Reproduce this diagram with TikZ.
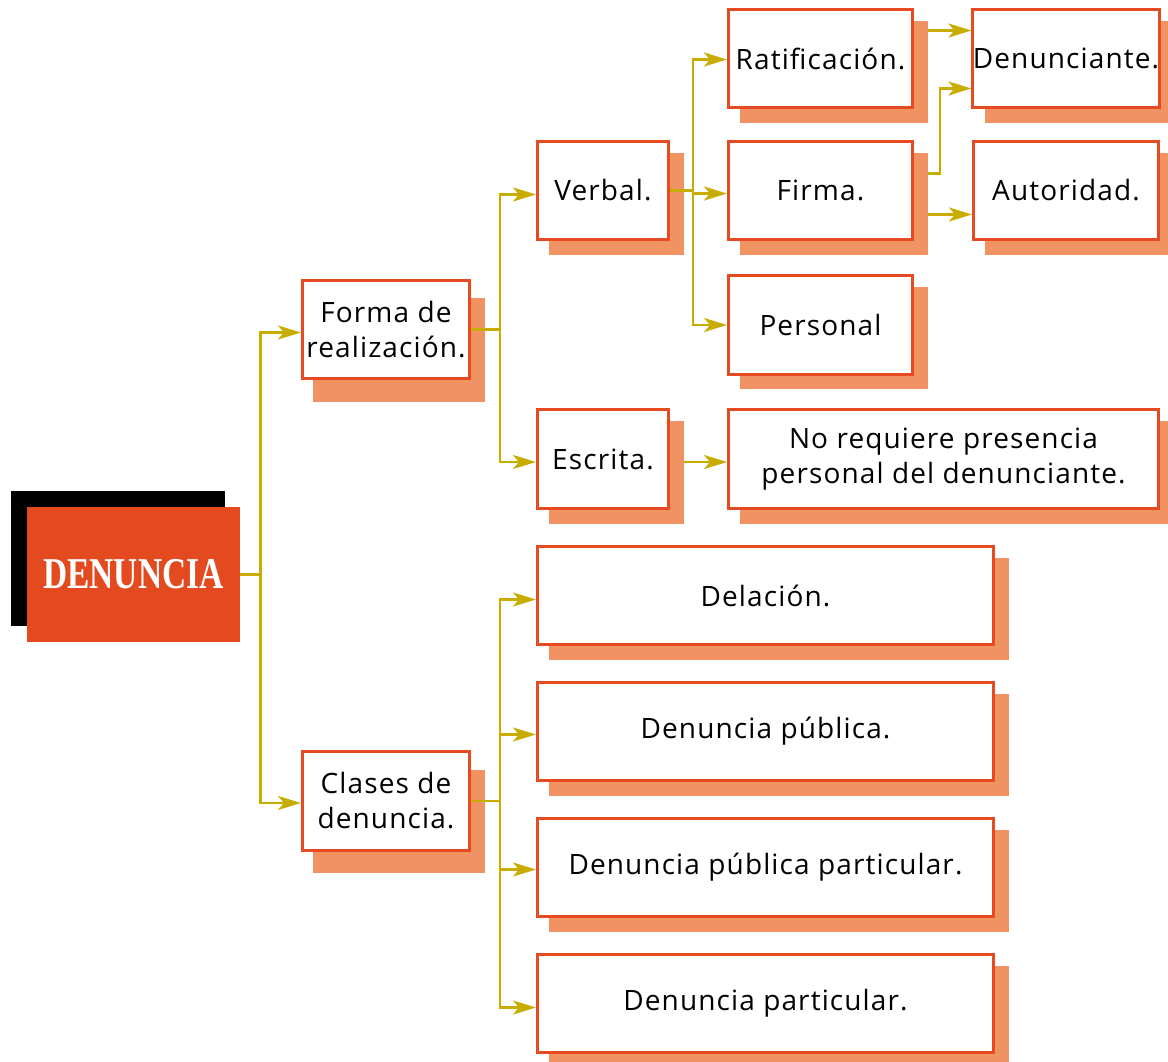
\documentclass[tikz,border=0pt]{standalone}
\usepackage{fontspec}
\usepackage{graphicx}
\setmainfont{Open Sans}[LetterSpace=4]
\newfontfamily\titlefont{Liberation Serif}
\usetikzlibrary{arrows.meta,positioning,calc}
\definecolor{boxborder}{HTML}{E54A22}
\definecolor{shadowc}{HTML}{F09262}
\definecolor{linkc}{HTML}{C8AC00}
\definecolor{mainfill}{HTML}{E34A20}
\tikzset{
  box/.style={draw=boxborder, line width=3pt, fill=white, align=center, inner sep=0pt,
    font=\fontsize{28}{35}\selectfont, text=black},
  shad/.style={fill=shadowc},
  arr/.style={draw=linkc, line width=2.8pt,
    -{Stealth[length=23pt,width=14pt,inset=6pt]}},
  lnk/.style={draw=linkc, line width=2.8pt},
}
\begin{document}
\begin{tikzpicture}[x=1pt,y=-1pt]
\useasboundingbox (0,0) rectangle (1168,1062);
% shadows
\fill[shad] (313,298) rectangle (485,402);
\fill[shad] (313,770) rectangle (485,873);
\fill[shad] (549,153) rectangle (684,255);
\fill[shad] (549,421) rectangle (684,524);
\fill[shad] (740,21) rectangle (928,123);
\fill[shad] (740,153) rectangle (928,255);
\fill[shad] (740,287) rectangle (928,389);
\fill[shad] (985,21) rectangle (1168,123);
\fill[shad] (985,153) rectangle (1168,255);
\fill[shad] (740,421) rectangle (1168,524);
\fill[shad] (549,558) rectangle (1009,660);
\fill[shad] (549,694) rectangle (1009,796);
\fill[shad] (549,830) rectangle (1009,932);
\fill[shad] (549,966) rectangle (1009,1062);
% main node
\fill[black] (11,491) rectangle (225,626);
\node[fill=mainfill, minimum width=213pt, minimum height=135pt, inner sep=0pt, text=white,
  font=\titlefont\bfseries\fontsize{44}{44}\selectfont] (den) at (133.5,574.5)
  {\scalebox{0.76}[1]{DENUNCIA}};
% boxes
\node[box, minimum width=167pt, minimum height=98pt] (forma) at (386,329.5) {Forma de\\realización.};
\node[box, minimum width=167pt, minimum height=99pt] (clases) at (386,801) {Clases de\\denuncia.};
\node[box, minimum width=131pt, minimum height=98pt] (verbal) at (603,190.5) {Verbal.};
\node[box, minimum width=131pt, minimum height=99pt] (escrita) at (603,459) {Escrita.};
\node[box, minimum width=184pt, minimum height=98pt] (ratif) at (820.5,58.5) {Ratificación.};
\node[box, minimum width=184pt, minimum height=98pt] (firma) at (820.5,190.5) {Firma.};
\node[box, minimum width=184pt, minimum height=99pt] (personal) at (820.5,325) {Personal};
\node[box, minimum width=185pt, minimum height=98pt] (denun) at (1066,58.5) {Denunciante.};
\node[box, minimum width=185pt, minimum height=98pt] (autor) at (1066,190.5) {Autoridad.};
\node[box, minimum width=430pt, minimum height=99pt] (noreq) at (943.5,459) {No requiere presencia\\personal del denunciante.};
\node[box, minimum width=456pt, minimum height=98pt] (delac) at (765.5,595.5) {Delación.};
\node[box, minimum width=456pt, minimum height=98pt] (pub) at (765.5,731.5) {Denuncia pública.};
\node[box, minimum width=456pt, minimum height=98pt] (pubpart) at (765.5,867.5) {Denuncia pública particular.};
\node[box, minimum width=456pt, minimum height=98pt] (part) at (765.5,1003.5) {Denuncia particular.};
% connectors
\draw[arr] (den.east) -- ++(20,0) |- ([yshift=-3pt]forma.west);
\draw[arr] (den.east) -- ++(20,0) |- ([yshift=-2pt]clases.west);
\draw[lnk] (forma.east) -- ++(29,0);
\draw[arr] ([xshift=29pt]forma.east) |- ([yshift=-4pt]verbal.west);
\draw[arr] ([xshift=29pt]forma.east) |- ([yshift=-3pt]escrita.west);
\draw[lnk] (verbal.east) -- ++(23,0);
\draw[arr] ([xshift=23pt]verbal.east) |- ([yshift=-1pt]ratif.west);
\draw[arr] ([xshift=23pt]verbal.east) |- ([yshift=-3pt]firma.west);
\draw[arr] ([xshift=23pt]verbal.east) |- (personal.west);
\draw[arr] ([xshift=14pt,yshift=28pt]ratif.east) -- ([yshift=28pt]denun.west);
\draw[arr] ([xshift=14pt,yshift=17pt]firma.east) -- ++(12,0) |- ([yshift=-30pt]denun.west);
\draw[arr] ([xshift=14pt,yshift=-24pt]firma.east) -- ([yshift=-24pt]autor.west);
\draw[arr] ([xshift=14pt,yshift=-3pt]escrita.east) -- ([yshift=-3pt]noreq.west);
\draw[lnk] (clases.east) -- ++(29,0);
\draw[arr] ([xshift=29pt]clases.east) |- ([yshift=-4pt]delac.west);
\draw[arr] ([xshift=29pt]clases.east) |- ([yshift=-3pt]pub.west);
\draw[arr] ([xshift=29pt]clases.east) |- ([yshift=-2pt]pubpart.west);
\draw[arr] ([xshift=29pt]clases.east) |- ([yshift=-4pt]part.west);
\end{tikzpicture}
\end{document}
